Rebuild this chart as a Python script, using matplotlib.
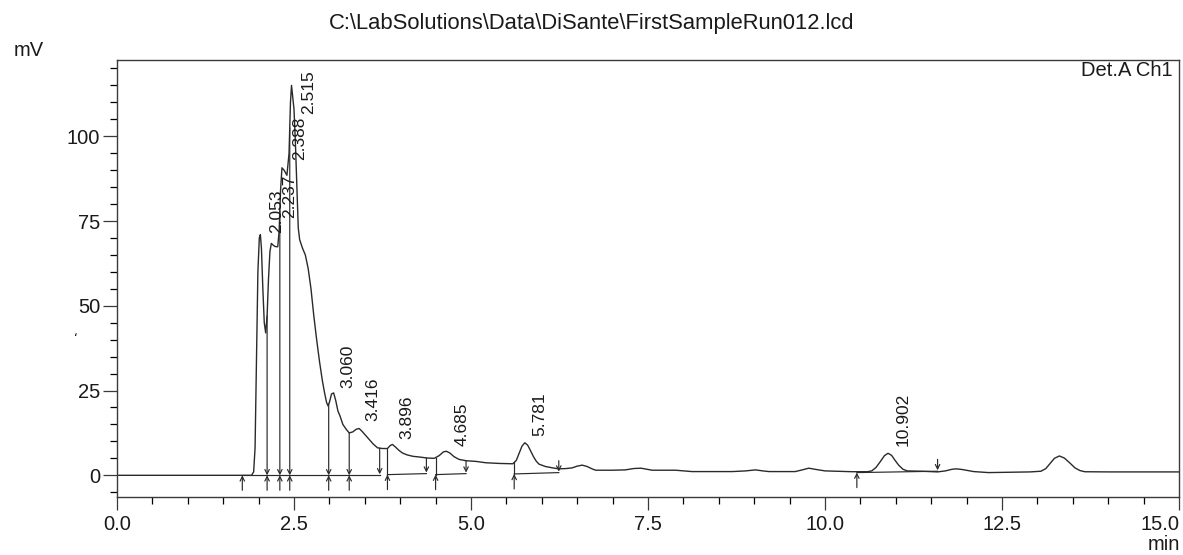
import matplotlib
matplotlib.use("Agg")
import matplotlib.pyplot as plt
import numpy as np
from matplotlib.ticker import MultipleLocator

plt.rcParams['font.family'] = ['Liberation Sans', 'DejaVu Sans']

# ---------------- data ----------------
title = r"C:\LabSolutions\Data\DiSante\FirstSampleRun012.lcd"
channel = "Det.A Ch1"

time_min = [
    0.00, 1.90, 1.93, 1.95, 1.97, 1.99, 2.01, 2.025, 2.04, 2.06, 2.08, 2.10,
    2.12, 2.14, 2.16, 2.18, 2.20, 2.23, 2.27, 2.29, 2.31, 2.33, 2.36, 2.40,
    2.43, 2.45, 2.465, 2.48, 2.50, 2.52, 2.54, 2.56, 2.58, 2.62, 2.66, 2.70,
    2.74, 2.78, 2.82, 2.86, 2.90, 2.93, 2.96, 2.98, 3.00, 3.03, 3.06, 3.09,
    3.12, 3.15, 3.19, 3.24, 3.28, 3.33, 3.38, 3.42, 3.46, 3.51, 3.56, 3.62,
    3.68, 3.75, 3.82, 3.86, 3.89, 3.93, 3.98, 4.03, 4.10, 4.18, 4.27, 4.38,
    4.48, 4.55, 4.61, 4.65, 4.70, 4.76, 4.83, 4.93, 5.07, 5.21, 5.40, 5.59,
    5.64, 5.68, 5.72, 5.76, 5.80, 5.84, 5.88, 5.92, 5.96, 6.05, 6.15, 6.24,
    6.35, 6.43, 6.50, 6.57, 6.64, 6.71, 6.76, 7.00, 7.18, 7.30, 7.40, 7.48,
    7.56, 7.89, 8.12, 8.69, 8.88, 9.02, 9.12, 9.21, 9.58, 9.68, 9.77, 9.88,
    10.00, 10.38, 10.60, 10.66, 10.72, 10.78, 10.84, 10.89, 10.94, 10.99,
    11.04, 11.10, 11.16, 11.37, 11.59, 11.70, 11.80, 11.86, 11.94, 12.10,
    12.31, 12.60, 12.90, 13.05, 13.12, 13.18, 13.24, 13.31, 13.38, 13.46,
    13.53, 13.60, 13.67, 14.00, 15.00,
]
signal_mv = [
    0.0, 0.0, 1.0, 8.0, 35.0, 60.0, 70.0, 71.0, 67.0, 55.0, 45.0, 42.0,
    47.0, 58.0, 66.0, 68.4, 68.0, 67.5, 67.4, 72.0, 84.0, 90.7, 90.0, 88.5,
    95.0, 110.0, 115.0, 112.0, 108.0, 98.0, 85.0, 73.0, 69.5, 67.0, 65.0, 61.0,
    55.0, 47.0, 40.0, 33.6, 28.0, 24.5, 21.5, 20.5, 21.5, 24.0, 24.3, 22.0,
    19.0, 17.5, 15.0, 13.5, 12.5, 12.8, 13.6, 13.8, 13.0, 11.8, 10.6, 9.2,
    8.1, 7.9, 7.9, 8.8, 9.1, 8.4, 7.4, 6.6, 6.0, 5.6, 5.4, 5.1,
    5.0, 5.8, 6.9, 7.1, 6.6, 5.5, 4.7, 4.3, 4.1, 3.7, 3.5, 3.4,
    4.4, 6.5, 8.6, 9.6, 8.9, 7.3, 5.6, 4.2, 3.3, 2.6, 2.2, 1.9,
    2.0, 2.2, 2.7, 3.0, 2.6, 1.9, 1.5, 1.5, 1.6, 2.0, 2.1, 1.8,
    1.5, 1.5, 1.1, 1.1, 1.3, 1.6, 1.3, 1.1, 1.1, 1.6, 2.1, 1.7,
    1.3, 1.06, 1.06, 1.3, 2.3, 4.0, 5.8, 6.5, 5.9, 4.4,
    3.0, 1.8, 1.3, 1.2, 1.0, 1.3, 1.8, 1.9, 1.7, 1.1,
    0.8, 0.9, 1.0, 1.2, 2.0, 3.5, 5.0, 5.7, 5.1, 3.6,
    2.2, 1.4, 1.05, 1.0, 1.0,
]

peak_rt = [2.053, 2.237, 2.388, 2.515, 3.060, 3.416, 3.896, 4.685, 5.781, 10.902]
peak_labels = ["2.053", "2.237", "2.388", "2.515", "3.060", "3.416",
               "3.896", "4.685", "5.781", "10.902"]
label_bottom_mv = [71.4, 75.8, 93.0, 106.7, 25.8, 16.0, 10.6, 8.7, 11.6, 8.7]

drop_times = [2.12, 2.30, 2.44, 2.99, 3.28]
seg_start = [1.77, 3.82, 4.50, 5.61, 10.45]
seg_end = [3.71, 4.37, 4.93, 6.24, 11.59]
seg_level_start = [0.0, 0.2, 0.2, 0.4, 0.8]
seg_level_end = [0.0, 0.5, 0.5, 0.8, 1.2]

x_ticks = [0.0, 2.5, 5.0, 7.5, 10.0, 12.5, 15.0]
y_ticks = [0, 25, 50, 75, 100]

# ---------------- drawing ----------------
W, H, DPI = 1183, 555, 100
fig = plt.figure(figsize=(W / DPI, H / DPI), dpi=DPI)
ax = fig.add_axes([117 / W, 1 - 497 / H, (1179 - 117) / W, (497 - 60) / H])

ink = "#1a1a1a"
line_col = "#2a2a2a"

ax.plot(time_min, signal_mv, color=line_col, lw=1.0)

ax.set_xlim(0, 15)
ax.set_ylim(-6.4, 122.5)

# integration baselines
for s, e, ls, le in zip(seg_start, seg_end, seg_level_start, seg_level_end):
    ax.plot([s, e], [ls, le], color=line_col, lw=0.85)

arrow_kw = dict(arrowstyle="->", color=line_col, lw=0.85, shrinkA=0, shrinkB=0,
                mutation_scale=8)

def level_at(t):
    for s, e, ls, le in zip(seg_start, seg_end, seg_level_start, seg_level_end):
        if s - 1e-6 <= t <= e + 1e-6:
            return ls + (le - ls) * (t - s) / (e - s)
    return 0.0

# start markers (up arrows from below, plus line up to the trace)
for t in seg_start:
    b = level_at(t)
    y = float(np.interp(t, time_min, signal_mv))
    if y - b > 0.8:
        ax.plot([t, t], [b, y], color=line_col, lw=0.85)
    ax.annotate("", xy=(t, b), xytext=(0, -15), textcoords="offset pixels",
                xycoords="data", arrowprops=arrow_kw)

# end markers (down arrows from the trace)
for t in seg_end:
    b = level_at(t)
    y = float(np.interp(t, time_min, signal_mv))
    top = max(y, b + 3.5)
    ax.annotate("", xy=(t, b + 0.3), xytext=(t, top), textcoords="data",
                arrowprops=arrow_kw)

# drop lines (down arrow to baseline + up arrow from below)
for t in drop_times:
    b = level_at(t)
    y = float(np.interp(t, time_min, signal_mv))
    ax.annotate("", xy=(t, b), xytext=(t, y), textcoords="data",
                arrowprops=arrow_kw)
    ax.annotate("", xy=(t, b), xytext=(0, -15), textcoords="offset pixels",
                arrowprops=arrow_kw)

# peak labels
for rt, lab, yb in zip(peak_rt, peak_labels, label_bottom_mv):
    ax.text(rt + 0.195, yb, lab, rotation=90, ha="center", va="bottom",
            fontsize=12.5, color=ink)

# axes styling
for sp in ax.spines.values():
    sp.set_color("#3a3a3a")
    sp.set_linewidth(1.0)
ax.set_xticks(x_ticks)
ax.set_xticklabels([f"{v:.1f}" for v in x_ticks])
ax.set_yticks(y_ticks)
ax.set_yticklabels([str(v) for v in y_ticks])
ax.xaxis.set_minor_locator(MultipleLocator(0.5))
ax.yaxis.set_minor_locator(MultipleLocator(5))
ax.tick_params(axis="x", which="major", length=9, width=0.9, pad=4,
               labelsize=14.5, colors="#3a3a3a", labelcolor=ink, top=False)
ax.tick_params(axis="x", which="minor", length=5, width=0.9, top=False)
ax.tick_params(axis="y", which="major", length=10, width=0.9, pad=2,
               labelsize=14.5, colors="#3a3a3a", labelcolor=ink, right=False)
ax.tick_params(axis="y", which="minor", length=5, width=0.9, right=False)
ax.xaxis.get_majorticklabels()[-1].set_horizontalalignment("right")

ax.text(0.994, 0.997, channel, transform=ax.transAxes, ha="right", va="top",
        fontsize=14.5, color=ink)

fig.text(0.5, 1 - 29 / H, title, ha="center", va="baseline", fontsize=15.8,
         color=ink)
fig.text(14 / W, 1 - 56 / H, "mV", ha="left", va="baseline", fontsize=14.5,
         color=ink)
fig.text(1180 / W, 1 - 550 / H, "min", ha="right", va="baseline",
         fontsize=14.5, color=ink)
fig.text(76 / W, 1 - 338 / H, "\u02bb", ha="center", va="center",
         fontsize=9, color=ink, family=["DejaVu Sans"])

fig.savefig("out.png", dpi=DPI)
